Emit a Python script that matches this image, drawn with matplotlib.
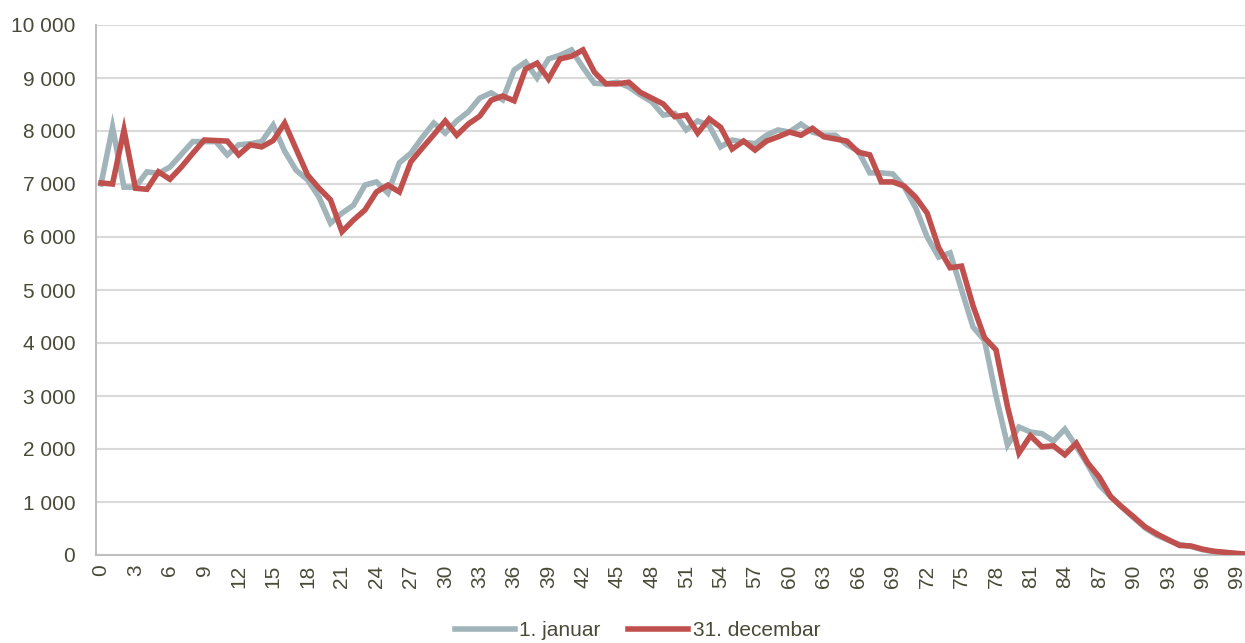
import matplotlib

matplotlib.use("Agg")
import matplotlib.pyplot as plt
import numpy as np

plt.rcParams["font.family"] = ["Liberation Sans", "DejaVu Sans"]

INK = "#4A4A38"
GRID = "#D9D9D9"
GRAY_LINE = "#A0B4BA"
RED_LINE = "#C0504D"

ages = list(range(0, 101))

jan_1 = [
    7000, 8070, 6940, 6940, 7230, 7200, 7320, 7560, 7800, 7800,
    7800, 7550, 7740, 7760, 7800, 8110, 7620, 7260, 7080, 6750,
    6260, 6450, 6600, 6980, 7040, 6830, 7400, 7580, 7880, 8150,
    7960, 8190, 8360, 8620, 8720, 8590, 9150, 9300, 9000, 9360,
    9430, 9530, 9200, 8900, 8890, 8920, 8830, 8680, 8550, 8300,
    8330, 8020, 8190, 8100, 7700, 7830, 7790, 7760, 7920, 8020,
    7980, 8130, 7980, 7920, 7920, 7740, 7620, 7210, 7210, 7190,
    6950, 6550, 6000, 5620, 5700, 5000, 4300, 4050, 3000, 2075,
    2415, 2320, 2290, 2150, 2375, 2050, 1700, 1320, 1100, 900,
    700, 510, 375, 280, 200, 160, 100, 65, 45, 25,
    15,
]

dec_31 = [
    7020, 7000, 8020, 6920, 6900, 7230, 7090, 7320, 7580, 7830,
    7820, 7810, 7550, 7740, 7700, 7820, 8150, 7660, 7170, 6920,
    6700, 6100, 6320, 6510, 6850, 6980, 6850, 7420, 7680, 7930,
    8190, 7920, 8130, 8280, 8580, 8660, 8570, 9170, 9280, 8980,
    9360, 9410, 9530, 9110, 8890, 8890, 8920, 8730, 8620, 8510,
    8270, 8300, 7960, 8230, 8070, 7660, 7810, 7640, 7810, 7890,
    7980, 7920, 8050, 7890, 7850, 7810, 7600, 7550, 7040, 7040,
    6960, 6750, 6450, 5800, 5420, 5450, 4700, 4100, 3870, 2800,
    1925, 2250, 2040, 2060, 1890, 2110, 1735, 1470, 1100, 900,
    720, 530, 400, 290, 180, 170, 110, 70, 50, 30,
    15,
]

fig = plt.figure(figsize=(12.45, 6.43), dpi=100)
ax = fig.add_axes([96 / 1245, 1 - 555 / 643, (1249 - 96) / 1245, (555 - 25) / 643])

ax.plot(ages, jan_1, color=GRAY_LINE, lw=4.0, solid_joinstyle="miter",
        label="1. januar", zorder=3)
ax.plot(ages, dec_31, color=RED_LINE, lw=4.0, solid_joinstyle="miter",
        label="31. decembar", zorder=4)

ax.set_xlim(-0.44, 100.05)
ax.set_ylim(0, 10000)
ax.set_yticks(np.arange(0, 10001, 1000))
ax.set_yticklabels([f"{v:,}".replace(",", " ") for v in range(0, 10001, 1000)])
ax.set_xticks(range(0, 100, 3))
ax.set_xticklabels([str(a) for a in range(0, 100, 3)], rotation=90)

ax.grid(axis="y", color=GRID, lw=1.5, zorder=0)
ax.set_axisbelow(True)
for side in ("top", "right"):
    ax.spines[side].set_visible(False)
for side in ("left", "bottom"):
    ax.spines[side].set_color("#BFBFBF")
    ax.spines[side].set_linewidth(1.5)

ax.tick_params(axis="y", length=0, pad=15, labelsize=15, labelcolor=INK)
ax.tick_params(axis="x", length=0, pad=7, labelsize=15, labelcolor=INK)

fig.legend(loc="lower center", bbox_to_anchor=(0.512, -0.025), ncol=2,
           frameon=False, fontsize=15, labelcolor=INK, handlelength=2.9,
           handletextpad=0.2, columnspacing=1.3)

fig.savefig("out.png", dpi=100, facecolor="white")
